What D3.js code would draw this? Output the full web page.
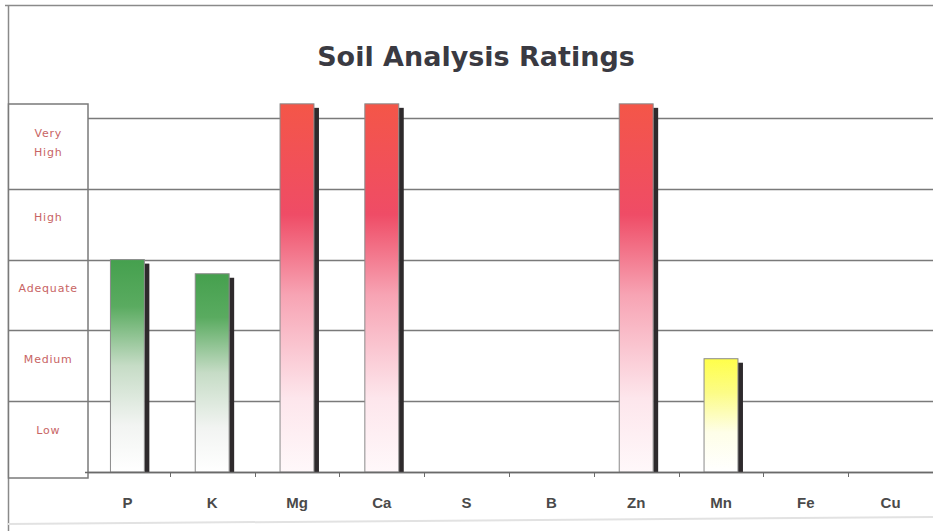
<!DOCTYPE html>
<html>
<head>
<meta charset="utf-8">
<script src="https://cdn.jsdelivr.net/npm/d3@7"></script>
<style>
	html, body { margin: 0; padding: 0; background: #fff; }
	svg { display: block; }
</style>
</head>
<body>
<div id="canvas"></div>
<script>
// Data
var nutrients = ['P', 'K', 'Mg', 'Ca', 'S', 'B', 'Zn', 'Mn', 'Fe', 'Cu'],
	ratings = [3.0, 2.8, 5.2, 5.2, 0, 0, 5.2, 1.6, 0, 0],
	ratingColor = ['green', 'green', 'red', 'red', 'none', 'none', 'red', 'yellow', 'none', 'none'],
	levelLabels = [['Low'], ['Medium'], ['Adequate'], ['High'], ['Very', 'High']];

var width = 933,
	height = 531,
	margin = { top: 118, bottom: 59, left: 85, right: 0 };

var svg = d3.select('#canvas').append('svg')
	.attr('width', width)
	.attr('height', height);

// Gradients
var defs = svg.append('defs');
var gradients = {
	green: [[0, '#45a04e'], [0.22, '#5aab60'], [0.5, '#c6dcc6'], [0.78, '#f2f4f2'], [1, '#ffffff']],
	red: [[0, '#f45648'], [0.3, '#ef4c66'], [0.52, '#f7a4b4'], [0.8, '#fde6ec'], [1, '#fff8fa']],
	yellow: [[0, '#ffff4a'], [0.3, '#fcfc86'], [0.65, '#fefee8'], [1, '#ffffff']]
};
Object.keys(gradients).forEach(function(key) {
	var g = defs.append('linearGradient')
		.attr('id', 'grad-' + key)
		.attr('x1', 0).attr('y1', 0).attr('x2', 0).attr('y2', 1);
	gradients[key].forEach(function(s) {
		g.append('stop').attr('offset', s[0]).attr('stop-color', s[1]);
	});
});

// Scales
var x = d3.scaleBand()
		.domain(nutrients)
		.range([margin.left, width - margin.right]),
	y = d3.scaleLinear()
		.domain([0, 5])
		.range([height - margin.bottom, margin.top]),
	barWidth = x.bandwidth() * 0.4,
	baseY = y(0);

// Frame
svg.append('line')
	.attr('x1', 5).attr('y1', 5.5).attr('x2', width).attr('y2', 5.5)
	.attr('stroke', '#8a8a8a').attr('stroke-width', 1.5);
svg.append('line')
	.attr('x1', 8.5).attr('y1', 5).attr('x2', 8.5).attr('y2', height)
	.attr('stroke', '#8a8a8a').attr('stroke-width', 1.5);
svg.append('line')
	.attr('x1', 8).attr('y1', 524).attr('x2', width).attr('y2', 517)
	.attr('stroke', '#e2e2e2').attr('stroke-width', 2);

// Title
svg.append('text')
	.attr('x', 476)
	.attr('y', 66)
	.attr('text-anchor', 'middle')
	.attr('font-family', 'DejaVu Sans')
	.attr('font-weight', 'bold')
	.attr('font-size', 27)
	.attr('fill', '#3a3a42')
	.text('Soil Analysis Ratings');

// Gridlines
svg.append('g')
	.selectAll('line')
	.data(d3.range(0, 6))
	.enter().append('line')
	.attr('x1', margin.left)
	.attr('x2', width)
	.attr('y1', function(d) { return Math.round(y(d)) + 0.5; })
	.attr('y2', function(d) { return Math.round(y(d)) + 0.5; })
	.attr('stroke', '#7a7a7a')
	.attr('stroke-width', 1.3);

// Left rating box
var boxLeft = 8.5, boxRight = margin.left + 3,
	rowEdges = [478, y(1), y(2), y(3), y(4), 104];
var gBox = svg.append('g');
gBox.append('rect')
	.attr('x', boxLeft)
	.attr('y', rowEdges[5])
	.attr('width', boxRight - boxLeft)
	.attr('height', rowEdges[0] - rowEdges[5])
	.attr('fill', '#fff')
	.attr('stroke', '#7a7a7a')
	.attr('stroke-width', 1.5);
gBox.selectAll('line')
	.data(rowEdges.slice(1, 5))
	.enter().append('line')
	.attr('x1', boxLeft).attr('x2', boxRight)
	.attr('y1', function(d) { return Math.round(d) + 0.5; })
	.attr('y2', function(d) { return Math.round(d) + 0.5; })
	.attr('stroke', '#7a7a7a')
	.attr('stroke-width', 1.3);
gBox.selectAll('text')
	.data(levelLabels)
	.enter().append('text')
	.attr('text-anchor', 'middle')
	.attr('font-family', 'DejaVu Sans')
	.attr('font-size', 11)
	.attr('letter-spacing', 0.8)
	.attr('fill', '#c86464')
	.each(function(d, i) {
		var cy = i < 4 ? y(i + 0.5) - 7 : (rowEdges[i] + rowEdges[i + 1]) / 2 - 4,
			t = d3.select(this);
		d.forEach(function(line, j) {
			t.append('tspan')
				.attr('x', (boxLeft + boxRight) / 2)
				.attr('y', cy + 4 + (j - (d.length - 1) / 2) * 19)
				.text(line);
		});
	});

// Bars
var bars = nutrients.map(function(n, i) {
	return { name: n, value: ratings[i], color: ratingColor[i] };
}).filter(function(d) { return d.value > 0; });

var gBars = svg.append('g').selectAll('g')
	.data(bars)
	.enter().append('g');
gBars.append('rect')
	.attr('x', function(d) { return x(d.name) + (x.bandwidth() - barWidth) / 2 + barWidth; })
	.attr('y', function(d) { return y(d.value) + 4; })
	.attr('width', 5)
	.attr('height', function(d) { return baseY - y(d.value) - 4; })
	.attr('fill', '#2e2a2c');
gBars.append('rect')
	.attr('x', function(d) { return x(d.name) + (x.bandwidth() - barWidth) / 2; })
	.attr('y', function(d) { return y(d.value); })
	.attr('width', barWidth)
	.attr('height', function(d) { return baseY - y(d.value); })
	.attr('fill', function(d) { return 'url(#grad-' + d.color + ')'; })
	.attr('stroke', '#8a8a8a')
	.attr('stroke-width', 1);

// x-axis
var gX = svg.append('g');
gX.append('line')
	.attr('x1', margin.left).attr('x2', width)
	.attr('y1', Math.round(baseY) + 0.5).attr('y2', Math.round(baseY) + 0.5)
	.attr('stroke', '#6a6a6a').attr('stroke-width', 1.5);
gX.selectAll('.tick')
	.data(nutrients.slice(1))
	.enter().append('line')
	.attr('x1', function(d) { return Math.round(x(d)) + 0.5; })
	.attr('x2', function(d) { return Math.round(x(d)) + 0.5; })
	.attr('y1', baseY)
	.attr('y2', baseY + 5)
	.attr('stroke', '#6a6a6a');
gX.selectAll('text')
	.data(nutrients)
	.enter().append('text')
	.attr('x', function(d) { return x(d) + x.bandwidth() / 2; })
	.attr('y', 508)
	.attr('text-anchor', 'middle')
	.attr('font-family', 'Liberation Sans, Arial, sans-serif')
	.attr('font-weight', 'bold')
	.attr('font-size', 15)
	.attr('fill', '#4a4a4a')
	.text(function(d) { return d; });
</script>
</body>
</html>
